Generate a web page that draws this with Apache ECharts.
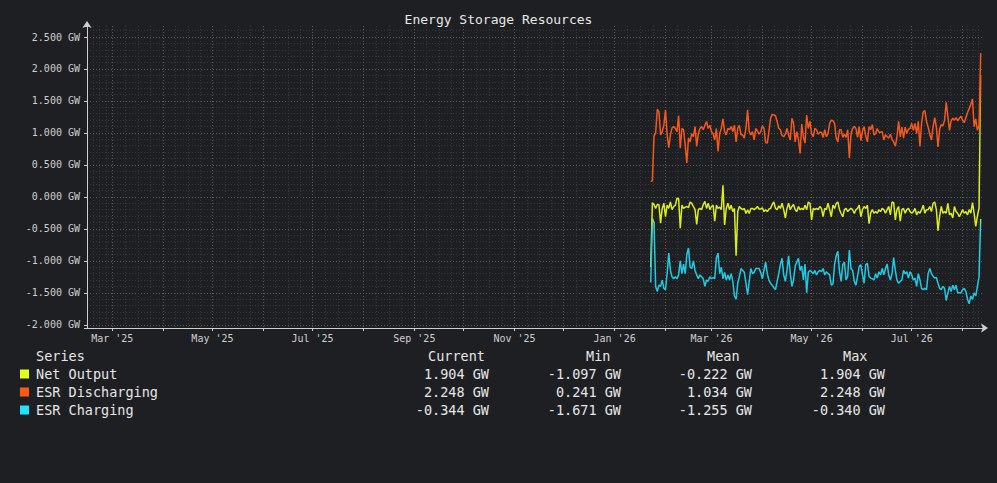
<!DOCTYPE html>
<html><head><meta charset="utf-8">
<script src="https://cdn.jsdelivr.net/npm/echarts@6/dist/echarts.min.js"></script>
<style>html,body{margin:0;padding:0;background:#1e1f22;}#c{width:997px;height:483px;}</style>
</head><body><div id="c"></div>
<script>
// ---- data (daily samples starting at startDate) ----
const startDate = [2026, 0, 23];
const axisStart = [2025, 1, 13, 14];
const axisEnd = [2026, 7, 13, 10];

const netOutput = [
 -1.097,-0.09,-0.12,-0.18,-0.12,-0.12,-0.41,-0.18,-0.10,-0.31,
 -0.13,-0.18,-0.08,-0.20,-0.15,-0.13,-0.02,-0.03,-0.49,-0.13,
 -0.18,-0.16,-0.15,-0.17,-0.08,-0.10,-0.15,-0.20,-0.43,-0.20,
 -0.18,-0.20,-0.12,-0.07,-0.18,-0.10,-0.20,-0.15,-0.13,-0.38,
 -0.13,-0.18,-0.16,-0.20,0.18,-0.44,-0.18,-0.10,-0.20,-0.13,
 -0.23,-0.18,-0.92,-0.23,-0.15,-0.18,-0.20,-0.18,-0.26,-0.20,
 -0.26,-0.18,-0.18,-0.20,-0.18,-0.15,-0.19,-0.19,-0.17,-0.23,
 -0.20,-0.23,-0.19,-0.18,-0.12,-0.08,-0.18,-0.20,-0.14,-0.18,
 -0.10,-0.20,-0.33,-0.18,-0.10,-0.20,-0.15,-0.12,-0.20,-0.23,
 -0.15,-0.20,-0.18,-0.20,-0.13,-0.20,-0.08,-0.10,-0.36,-0.18,
 -0.20,-0.18,-0.20,-0.15,-0.18,-0.31,-0.18,-0.20,-0.10,-0.20,
 -0.31,-0.13,-0.18,-0.10,-0.08,-0.20,-0.26,-0.31,-0.20,-0.18,
 -0.23,-0.20,-0.18,-0.20,-0.26,-0.20,-0.18,-0.13,-0.31,-0.20,
 -0.15,-0.18,-0.13,-0.42,-0.25,-0.20,-0.255,-0.23,-0.255,-0.20,
 -0.23,-0.18,-0.20,-0.255,-0.20,-0.15,-0.28,-0.08,-0.09,-0.36,
 -0.20,-0.15,-0.38,-0.20,-0.18,-0.255,-0.20,-0.18,-0.23,-0.255,
 -0.23,-0.18,-0.28,-0.23,-0.255,-0.20,-0.13,-0.255,-0.20,-0.20,
 -0.15,-0.23,-0.10,-0.08,-0.20,-0.53,-0.30,-0.15,-0.255,-0.23,
 -0.255,-0.10,-0.28,-0.255,-0.33,-0.15,-0.23,-0.255,-0.31,-0.255,
 -0.20,-0.255,-0.23,-0.28,-0.20,-0.255,-0.09,-0.255,-0.46,-0.30,
 -0.17,1.904
];

const esrDischarging = [
 0.241,0.25,0.95,1.00,1.37,1.33,0.97,1.02,1.12,1.36,
 0.97,0.77,0.97,1.08,1.10,1.07,1.02,1.27,0.76,1.07,
 1.05,0.81,0.53,0.92,0.86,0.99,0.94,1.10,0.79,0.99,
 1.07,1.10,1.05,1.12,1.18,1.07,1.12,1.02,0.99,0.89,
 1.07,0.71,0.99,1.07,1.22,1.02,0.97,1.07,1.05,1.10,
 1.02,1.12,0.86,1.07,1.12,0.97,0.97,0.92,1.07,1.36,
 1.02,0.97,1.02,0.89,1.07,1.03,0.98,1.02,1.11,1.07,
 0.85,0.84,1.02,1.23,1.29,1.28,1.27,1.18,1.07,1.05,
 0.96,0.94,0.98,1.07,0.97,0.89,1.23,1.15,0.86,1.02,
 0.89,0.68,1.14,0.94,0.84,1.28,1.07,1.18,0.99,0.94,
 1.07,1.05,0.98,1.01,1.01,0.93,1.05,0.94,0.99,1.15,
 1.20,1.19,1.15,0.92,0.86,1.05,1.05,0.93,0.98,0.93,
 1.05,0.61,0.98,1.07,1.10,1.07,0.93,1.10,0.88,1.03,
 1.10,0.95,0.86,1.10,1.05,1.13,0.97,0.99,1.07,1.01,
 1.01,1.02,0.89,0.97,0.94,0.92,0.98,0.90,0.86,0.79,
 0.94,1.18,0.94,1.09,0.92,1.09,0.99,1.06,1.07,1.15,
 1.04,1.15,0.99,1.18,0.79,1.15,1.33,1.35,1.18,1.09,
 0.98,0.89,1.09,1.24,1.09,0.78,1.06,1.13,1.11,1.20,
 1.48,1.26,1.04,1.19,1.23,1.20,1.24,1.19,1.23,1.26,
 1.20,1.16,1.24,1.32,1.38,1.45,1.53,1.10,1.22,1.04,
 1.12,2.248
];

const esrCharging = [
 -1.338,-0.34,-0.40,-1.40,-1.48,-1.38,-1.40,-1.30,-1.43,-1.45,
 -1.20,-0.88,-1.15,-1.25,-1.28,-1.25,-1.28,-1.22,-1.00,-1.20,
 -1.05,-1.20,-0.90,-0.80,-1.10,-1.12,-1.00,-1.15,-1.22,-1.28,
 -1.22,-1.25,-1.28,-1.40,-1.30,-1.32,-1.25,-1.28,-1.26,-1.28,
 -0.95,-0.88,-1.20,-1.10,-1.28,-1.18,-1.30,-1.22,-1.30,-1.20,
 -1.32,-1.55,-1.60,-1.35,-1.25,-1.12,-1.15,-1.18,-1.35,-1.53,
 -1.32,-1.12,-1.20,-1.18,-1.12,-1.12,-1.12,-1.18,-1.28,-1.15,
 -1.02,-1.20,-1.30,-1.35,-1.38,-1.42,-1.45,-1.32,-1.20,-1.06,
 -0.96,-1.22,-1.32,-1.15,-0.92,-1.20,-1.40,-1.30,-1.08,-1.02,
 -0.96,-1.15,-1.08,-1.30,-1.05,-1.50,-1.18,-1.15,-1.17,-1.20,
 -1.15,-1.22,-1.17,-1.15,-1.17,-1.12,-1.22,-1.17,-1.20,-1.22,
 -1.38,-1.36,-1.06,-0.92,-0.85,-1.17,-1.32,-1.06,-1.02,-1.30,
 -1.24,-0.83,-1.12,-1.15,-1.32,-1.38,-1.24,-1.09,-1.06,-1.22,
 -1.35,-1.06,-1.04,-1.24,-1.27,-1.28,-1.30,-1.20,-1.27,-1.17,
 -1.22,-1.12,-1.22,-1.12,-1.05,-1.22,-1.30,-1.20,-0.95,-1.15,
 -1.30,-1.35,-1.32,-1.30,-1.15,-1.20,-1.17,-1.27,-1.17,-1.22,
 -1.30,-1.27,-1.40,-1.20,-1.30,-1.43,-1.45,-1.43,-1.45,-1.20,
 -1.12,-1.20,-1.24,-1.27,-1.26,-1.35,-1.43,-1.45,-1.40,-1.43,
 -1.62,-1.50,-1.40,-1.48,-1.38,-1.45,-1.38,-1.50,-1.50,-1.50,
 -1.45,-1.43,-1.48,-1.60,-1.671,-1.55,-1.60,-1.50,-1.55,-1.40,
 -1.25,-0.344
];

const seriesNames = ['Net Output', 'ESR Discharging', 'ESR Charging'];
const statHeaders = ['Series', 'Current', 'Min', 'Mean', 'Max'];
const statCurrent = [1.904, 2.248, -0.344];
const statMin = [-1.097, 0.241, -1.671];
const statMean = [-0.222, 1.034, -1.255];
const statMax = [1.904, 2.248, -0.340];
const monthNames = ['Jan','Feb','Mar','Apr','May','Jun','Jul','Aug','Sep','Oct','Nov','Dec'];

// ---- styling ----
const FONT = '"DejaVu Sans Mono", "Liberation Mono", monospace';
const swatch = ['#e4ff1c', '#ff5a16', '#1ee4ff'];
const lineColors = [
  {type:'linear', x:0, y:0, x2:0, y2:1, colorStops:[
    {offset:0, color:'#ff6a1a'}, {offset:0.28, color:'#c9c820'}, {offset:0.45, color:'#dcec1c'}, {offset:1, color:'#dcec1c'}]},
  '#f5581c',
  {type:'linear', x:0, y:0, x2:0, y2:1, colorStops:[
    {offset:0, color:'#9adf6a'}, {offset:0.14, color:'#22cfe8'}, {offset:1, color:'#1ec6e2'}]}
];
const majorGrid = '#5a5b60';
const minorGrid = '#36373c';
const axisColor = '#cfcfcf';

function toPairs(arr) {
  return arr.map((v, i) => [new Date(startDate[0], startDate[1], startDate[2] + i).getTime(), v]);
}
const seriesData = [netOutput, esrDischarging, esrCharging];

const fmt = v => v.toFixed(3) + ' GW';

// legend / stats table as graphic text
const graphics = [];
const rowY = [374, 392, 410];
const headY = 356;
const valRight = [489, 621, 752, 885];
const headLeft = [36, 428, 586, 707, 843];
const tFont = '13.5px ' + FONT;
statHeaders.forEach((h, k) => {
  graphics.push({type:'text', x: headLeft[k], y: headY,
    style:{text:h, fill:'#e6e6e6', font:tFont, textAlign:'left', textVerticalAlign:'middle'}});
});
seriesNames.forEach((n, r) => {
  graphics.push({type:'rect', shape:{x:20, y:rowY[r]-4.5, width:9, height:9}, style:{fill:swatch[r]}});
  graphics.push({type:'text', x:36, y:rowY[r],
    style:{text:n, fill:'#e6e6e6', font:tFont, textAlign:'left', textVerticalAlign:'middle'}});
  [statCurrent, statMin, statMean, statMax].forEach((arr, k) => {
    graphics.push({type:'text', x:valRight[k], y:rowY[r],
      style:{text:fmt(arr[r]), fill:'#e6e6e6', font:tFont, textAlign:'right', textVerticalAlign:'middle'}});
  });
});

const ySplitColors = ['rgba(0,0,0,0)'];
for (let k = 0; k < 10; k++) ySplitColors.push(majorGrid);
ySplitColors.push('rgba(0,0,0,0)');

const chart = echarts.init(document.getElementById('c'), null, {renderer:'svg'});
chart.setOption({
  backgroundColor:'#1e1f22',
  animation:false,
  title:{text:'Energy Storage Resources', left:'center', top:8,
    textStyle:{color:'#e8e8e8', fontFamily:FONT, fontSize:13, fontWeight:'normal'}},
  grid:{left:87, right:14, top:26, bottom:155, containLabel:false},
  xAxis:{
    type:'time',
    min:new Date(...axisStart).getTime(),
    max:new Date(...axisEnd).getTime(),
    splitNumber:18,
    minInterval:28*86400000,
    maxInterval:31*86400000,
    axisLine:{show:true, onZero:false, lineStyle:{color:axisColor, width:1},
      symbol:['none','arrow'], symbolSize:[7,7], symbolOffset:[0,5]},
    axisTick:{show:true, length:3, lineStyle:{color:axisColor}},
    axisLabel:{color:axisColor, fontFamily:FONT, fontSize:10, margin:5, hideOverlap:false,
      formatter:function(val){
        const d = new Date(val);
        if (d.getDate() !== 1 || d.getHours() !== 0 || d.getMonth() % 2 !== 0) return '';
        return monthNames[d.getMonth()] + " '" + String(d.getFullYear()).slice(2);
      }},
    splitLine:{show:true, showMinLine:false, showMaxLine:false, lineStyle:{color:majorGrid, type:[1,2], width:1}},
    minorTick:{show:false, splitNumber:4},
    minorSplitLine:{show:true, lineStyle:{color:minorGrid, type:[1,2], width:1}}
  },
  yAxis:{
    type:'value',
    min:-2.05, max:2.672, splitNumber:9,
    axisLine:{show:true, lineStyle:{color:axisColor, width:1},
      symbol:['none','arrow'], symbolSize:[7,7], symbolOffset:[0,5]},
    axisTick:{show:true, length:3, lineStyle:{color:axisColor}},
    axisLabel:{color:axisColor, fontFamily:FONT, fontSize:10, margin:7,
      formatter:function(v){
        return Math.abs(v*2 - Math.round(v*2)) < 1e-6 ? v.toFixed(3) + ' GW' : '';
      }},
    splitLine:{show:true, lineStyle:{color:ySplitColors, type:[1,2], width:1}},
    minorTick:{show:false, splitNumber:5},
    minorSplitLine:{show:true, lineStyle:{color:minorGrid, type:[1,2], width:1}}
  },
  series: seriesNames.map((n, k) => ({
    name:n, type:'line', data:toPairs(seriesData[k]), showSymbol:false, symbol:'none',
    lineStyle:{color:lineColors[k], width:1.5}, itemStyle:{color:swatch[k]},
    z: 3 + k, silent:true
  })),
  graphic: graphics
});
</script>
</body></html>
